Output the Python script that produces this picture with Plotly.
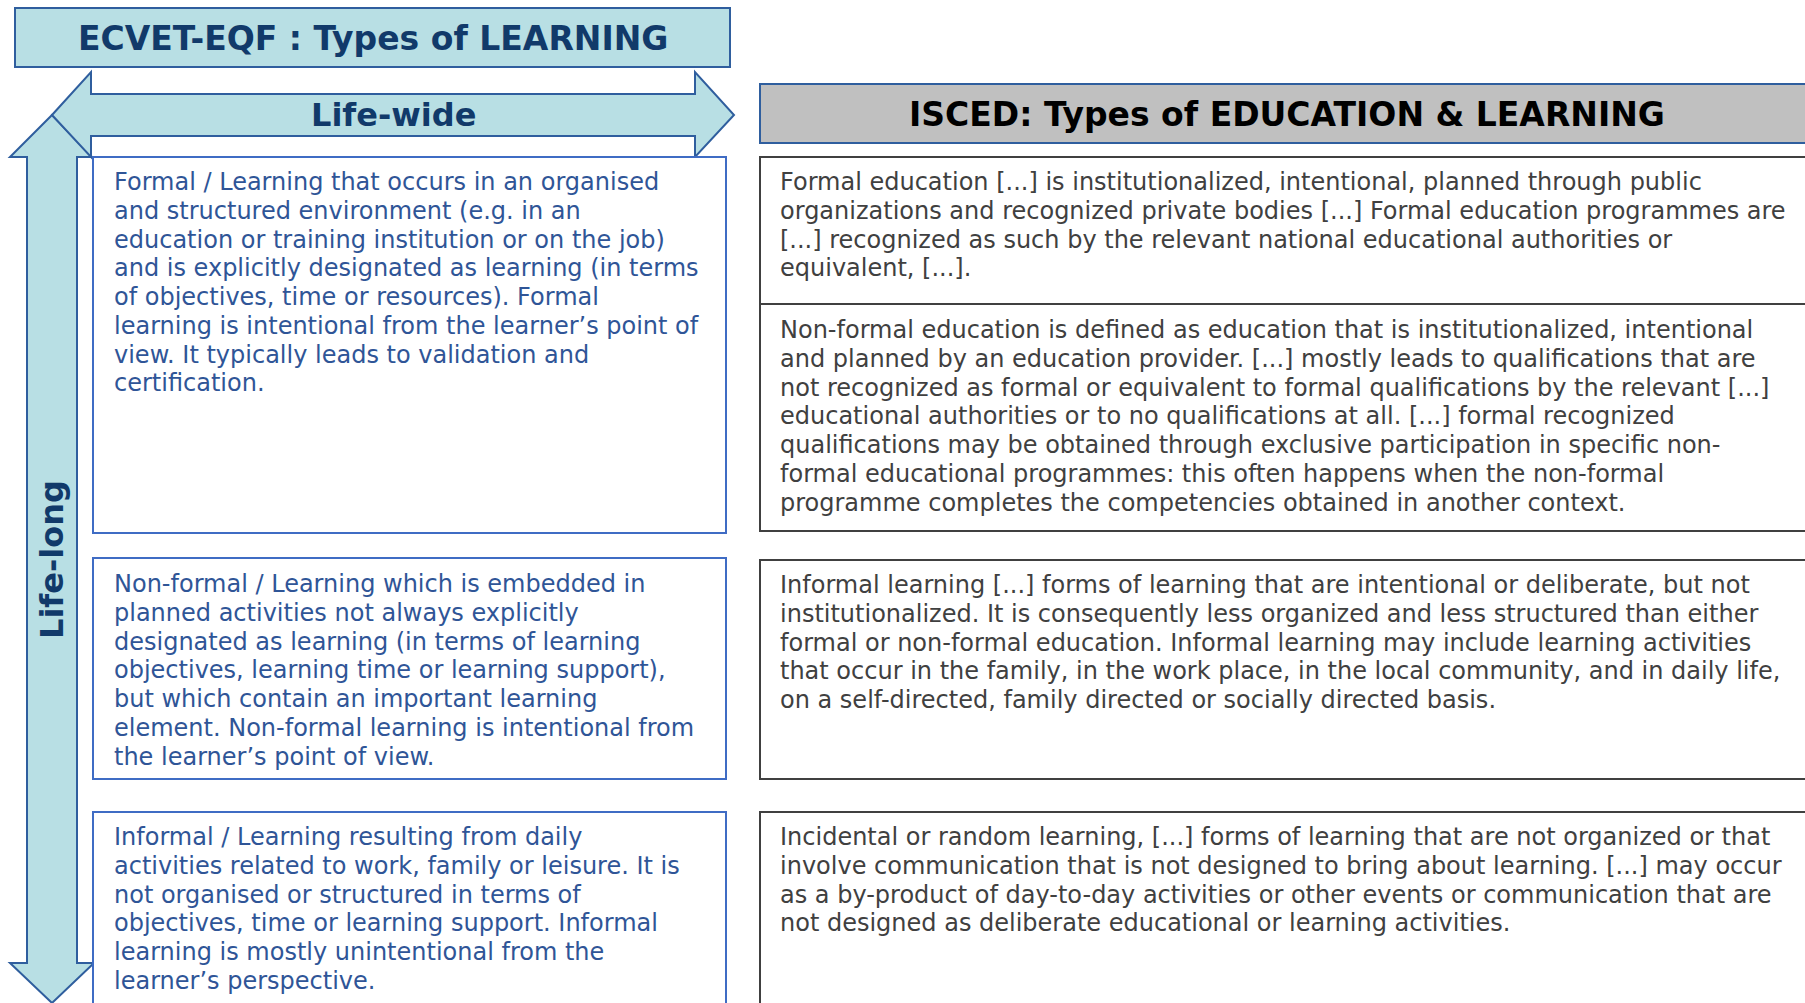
import plotly.graph_objects as go

W, H = 1805, 1003

# ---- text content ----
left_title = "ECVET-EQF : Types of LEARNING"
right_title = "ISCED: Types of EDUCATION &amp; LEARNING"
wide_label = "Life-wide"
long_label = "Life-long"

left_texts = [
    ["Formal / Learning that occurs in an organised",
     "and structured environment (e.g. in an",
     "education or training institution or on the job)",
     "and is explicitly designated as learning (in terms",
     "of objectives, time or resources). Formal",
     "learning is intentional from the learner’s point of",
     "view. It typically leads to validation and",
     "certification."],
    ["Non-formal / Learning which is embedded in",
     "planned activities not always explicitly",
     "designated as learning (in terms of learning",
     "objectives, learning time or learning support),",
     "but which contain an important learning",
     "element. Non-formal learning is intentional from",
     "the learner’s point of view."],
    ["Informal / Learning resulting from daily",
     "activities related to work, family or leisure. It is",
     "not organised or structured in terms of",
     "objectives, time or learning support. Informal",
     "learning is mostly unintentional from the",
     "learner’s perspective."],
]
right_texts = [
    ["Formal education [...] is institutionalized, intentional, planned through public",
     "organizations and recognized private bodies [...] Formal education programmes are",
     "[...] recognized as such by the relevant national educational authorities or",
     "equivalent, [...]."],
    ["Non-formal education is defined as education that is institutionalized, intentional",
     "and planned by an education provider. [...] mostly leads to qualifications that are",
     "not recognized as formal or equivalent to formal qualifications by the relevant [...]",
     "educational authorities or to no qualifications at all. [...] formal recognized",
     "qualifications may be obtained through exclusive participation in specific non-",
     "formal educational programmes: this often happens when the non-formal",
     "programme completes the competencies obtained in another context."],
    ["Informal learning [...] forms of learning that are intentional or deliberate, but not",
     "institutionalized. It is consequently less organized and less structured than either",
     "formal or non-formal education. Informal learning may include learning activities",
     "that occur in the family, in the work place, in the local community, and in daily life,",
     "on a self-directed, family directed or socially directed basis."],
    ["Incidental or random learning, [...] forms of learning that are not organized or that",
     "involve communication that is not designed to bring about learning. [...] may occur",
     "as a by-product of day-to-day activities or other events or communication that are",
     "not designed as deliberate educational or learning activities."],
]

# ---- layout geometry (pixel coordinates, y downward) ----
left_boxes = [(93, 157, 726, 533), (93, 558, 726, 779), (93, 812, 726, 1030)]
right_boxes = [(760, 157, 1830, 304), (760, 304, 1830, 531), (760, 560, 1830, 779), (760, 812, 1830, 1030)]
left_first_line = [182, 584, 837]
right_first_line = [182, 330, 585, 837]
LINE_STEP = 28.78

TEAL = "#B8DFE4"
ARROW_LINE = "#2F5E9E"
NAVY = "#113A6A"
LBLUE = "#3F6CC4"
LTEXT = "#2F5597"
GRAY = "#404040"
BODY_FONT = "DejaVu Sans"
BODY_SIZE = 24
TITLE_SIZE = 33
LABEL_SIZE = 32

fig = go.Figure()
shapes = []

# vertical double arrow (life-long)
vpts = [(52, 115), (92, 157), (77, 157), (77, 963), (94, 963), (52, 1003),
        (10, 963), (27, 963), (27, 157), (10, 157)]
shapes.append(dict(type="path", path="M " + " L ".join(f"{x},{y}" for x, y in vpts) + " Z",
                   fillcolor=TEAL, line=dict(color=ARROW_LINE, width=2), layer="above"))
# horizontal double arrow (life-wide)
hpts = [(52, 115), (91, 72), (91, 94), (695, 94), (695, 72), (734, 115),
        (695, 157), (695, 136), (91, 136), (91, 157)]
shapes.append(dict(type="path", path="M " + " L ".join(f"{x},{y}" for x, y in hpts) + " Z",
                   fillcolor=TEAL, line=dict(color=ARROW_LINE, width=2), layer="above"))

# title box
shapes.append(dict(type="rect", x0=15, y0=8, x1=730, y1=67, fillcolor=TEAL,
                   line=dict(color=ARROW_LINE, width=2), layer="above"))
# ISCED header
shapes.append(dict(type="rect", x0=760, y0=84, x1=1830, y1=143, fillcolor="#C0C0C0",
                   line=dict(color=ARROW_LINE, width=2), layer="above"))

for (x0, y0, x1, y1) in left_boxes:
    shapes.append(dict(type="rect", x0=x0, y0=y0, x1=x1, y1=y1, fillcolor="white",
                       line=dict(color=LBLUE, width=2), layer="above"))
for (x0, y0, x1, y1) in right_boxes:
    shapes.append(dict(type="rect", x0=x0, y0=y0, x1=x1, y1=y1, fillcolor="white",
                       line=dict(color=GRAY, width=2), layer="above"))

annotations = []
annotations.append(dict(x=373, y=38, text=f"<b>{left_title}</b>", showarrow=False,
                        font=dict(family="DejaVu Sans", size=TITLE_SIZE, color=NAVY),
                        xanchor="center", yanchor="middle"))
annotations.append(dict(x=393, y=115, text=f"<b>{wide_label}</b>", showarrow=False,
                        font=dict(family="DejaVu Sans", size=LABEL_SIZE, color=NAVY),
                        xanchor="center", yanchor="middle"))
annotations.append(dict(x=52, y=560, text=f"<b>{long_label}</b>", showarrow=False, textangle=-90,
                        font=dict(family="DejaVu Sans", size=LABEL_SIZE, color=NAVY),
                        xanchor="center", yanchor="middle"))
annotations.append(dict(x=1287, y=114, text=f"<b>{right_title}</b>", showarrow=False,
                        font=dict(family="DejaVu Sans", size=TITLE_SIZE, color="black"),
                        xanchor="center", yanchor="middle"))

def add_lines(lines, x, y0, color):
    for i, ln in enumerate(lines):
        annotations.append(dict(x=x, y=y0 + i * LINE_STEP, text=ln, showarrow=False,
                                xanchor="left", yanchor="middle", align="left", borderpad=0,
                                font=dict(family=BODY_FONT, size=BODY_SIZE, color=color)))

for lines, y0 in zip(left_texts, left_first_line):
    add_lines(lines, 113, y0, LTEXT)
for lines, y0 in zip(right_texts, right_first_line):
    add_lines(lines, 779, y0, GRAY)

fig.update_layout(
    width=W, height=H, autosize=False,
    margin=dict(l=0, r=0, t=0, b=0),
    paper_bgcolor="white", plot_bgcolor="white",
    xaxis=dict(range=[0, W], visible=False, fixedrange=True),
    yaxis=dict(range=[H, 0], visible=False, fixedrange=True),
    shapes=shapes, annotations=annotations, showlegend=False,
)
fig.write_html(
    "out.html",
    config={"displayModeBar": False},
    post_script="document.body.style.margin='0';document.body.style.overflow='hidden';",
)
